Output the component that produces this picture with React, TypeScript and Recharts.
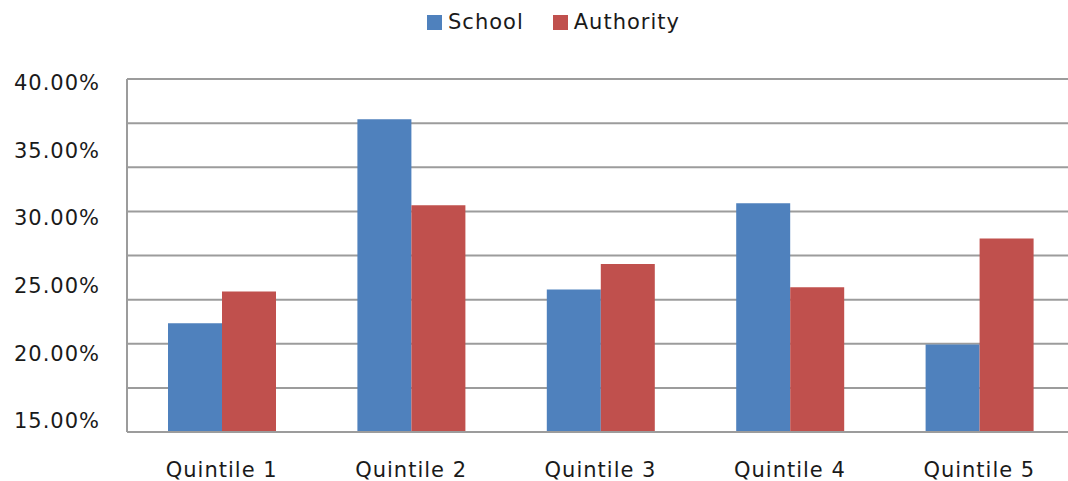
import { BarChart, Bar, XAxis, YAxis, CartesianGrid } from 'recharts'

const categories = ['Quintile 1', 'Quintile 2', 'Quintile 3', 'Quintile 4', 'Quintile 5']
const schoolValues = [22.7, 37.15, 25.1, 31.2, 21.2]
const authorityValues = [24.95, 31.05, 26.9, 25.25, 28.7]
const yTicks = [15, 20, 25, 30, 35, 40]
// gridlines in the original don't sit on the labelled ticks (8 equal steps)
const gridValues = [15, 18.125, 21.25, 24.375, 27.5, 30.625, 33.75, 36.875, 40]

const series = [
  { key: 'school', name: 'School', color: '#4F81BD' },
  { key: 'authority', name: 'Authority', color: '#C0504D' },
]

const data = categories.map((name, i) => ({
  name,
  school: schoolValues[i],
  authority: authorityValues[i],
}))

const FONT = '"DejaVu Sans", Verdana, sans-serif'
const GRID = '#9c9c9c'
const TEXT = '#1a1a1a'

const YTick = ({ x, y, payload }: any) => {
  // labels in the source drift slightly toward the middle of the axis
  const shift = 3.5 - (40 - payload.value) * 0.58
  return (
    <text
      x={x - 27}
      y={y + shift}
      dy="0.35em"
      textAnchor="end"
      fill={TEXT}
      fontFamily={FONT}
      fontSize={21}
      letterSpacing={1}
    >
      {payload.value.toFixed(2)}%
    </text>
  )
}

const XTick = ({ x, y, payload }: any) => (
  <text
    x={x}
    y={y + 38}
    dy="0.35em"
    textAnchor="middle"
    fill={TEXT}
    fontFamily={FONT}
    fontSize={21}
    letterSpacing={1}
  >
    {payload.value}
  </text>
)

export default function App() {
  return (
    <div
      style={{
        position: 'absolute',
        left: 0,
        top: 0,
        width: 1068,
        height: 481,
        overflow: 'hidden',
        background: '#fff',
      }}
    >
      <div
        style={{
          position: 'absolute',
          top: 10,
          left: 427,
          display: 'flex',
          alignItems: 'center',
          fontFamily: FONT,
          fontSize: 21,
          letterSpacing: 1,
          color: TEXT,
        }}
      >
        {series.map((s, i) => (
          <div
            key={s.key}
            style={{ display: 'flex', alignItems: 'center', marginRight: i === 0 ? 29 : 0 }}
          >
            <span
              style={{ width: 15, height: 15, background: s.color, display: 'inline-block', marginRight: 6 }}
            />
            <span>{s.name}</span>
          </div>
        ))}
      </div>
      <BarChart
        width={1080}
        height={481}
        data={data}
        margin={{ top: 79, right: 6, bottom: 0, left: 0 }}
        barSize={54}
        barGap={0}
      >
        <CartesianGrid
          vertical={false}
          horizontalValues={gridValues}
          stroke={GRID}
          strokeWidth={2}
        />
        <XAxis
          dataKey="name"
          height={49}
          tickSize={0}
          tickMargin={0}
          tickLine={false}
          axisLine={{ stroke: GRID, strokeWidth: 2 }}
          tick={<XTick />}
          interval={0}
        />
        <YAxis
          width={127}
          domain={[15, 40]}
          ticks={yTicks}
          allowDataOverflow
          tickSize={0}
          tickMargin={0}
          tickLine={false}
          axisLine={{ stroke: GRID, strokeWidth: 2 }}
          tick={<YTick />}
        />
        {series.map((s) => (
          <Bar
            key={s.key}
            dataKey={s.key}
            name={s.name}
            fill={s.color}
            isAnimationActive={false}
          />
        ))}
      </BarChart>
    </div>
  )
}
